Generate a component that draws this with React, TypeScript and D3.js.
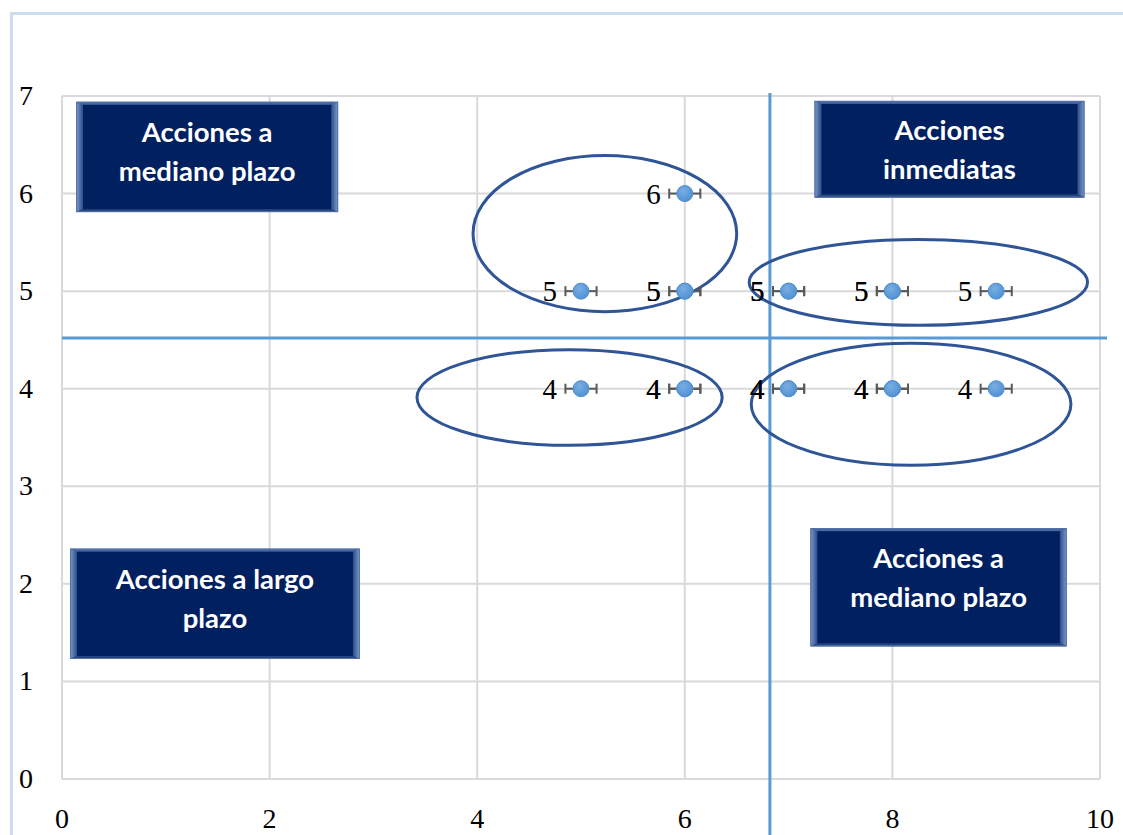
import { useCallback, useEffect, useRef } from "react";
import * as d3 from "d3";

// data points (x = impact, y = priority); repeated entries are overlapping points
const pointX = [6, 5, 6, 6, 7, 7, 8, 8, 9, 5, 6, 6, 7, 7, 8, 8, 9];
const pointY = [6, 5, 5, 5, 5, 5, 5, 5, 5, 4, 4, 4, 4, 4, 4, 4, 4];
const errorX = 0.15;

const xTicks = [0, 2, 4, 6, 8, 10];
const yTicks = [0, 1, 2, 3, 4, 5, 6, 7];
const xGrid = [0, 2, 4, 6, 8, 10];
const yGrid = [1, 2, 3, 4, 5, 6, 7];

// quadrant split lines
const splitX = 6.82;
const splitY = 4.52;

// groupings drawn as ellipses (centre, radii in data units)
const ellipseCx = [5.23, 8.25, 4.89, 8.18];
const ellipseCy = [5.59, 5.09, 3.91, 3.84];
const ellipseRx = [1.27, 1.63, 1.47, 1.54];
const ellipseRy = [0.8, 0.44, 0.49, 0.625];

// quadrant label boxes
const boxLines = [
  ["Acciones a", "mediano plazo"],
  ["Acciones", "inmediatas"],
  ["Acciones a largo", "plazo"],
  ["Acciones a", "mediano plazo"],
];
const boxX0 = [0.135, 7.25, 0.077, 7.21];
const boxX1 = [2.66, 9.85, 2.87, 9.68];
const boxY0 = [6.94, 6.95, 2.36, 2.57];
const boxY1 = [5.81, 5.96, 1.23, 1.36];
const boxTextY = [6.42, 6.44, 1.84, 2.06]; // mid-height of the two text lines

export default function App() {
  const ref = useRef<SVGSVGElement | null>(null);
  const width = 1123;
  const height = 835;
  const margin = { top: 96, right: 23, bottom: 56, left: 62 };

  const drawChart = useCallback(() => {
    const svg = d3.select(ref.current);
    svg.selectAll("*").remove();

    const x = d3.scaleLinear().domain([0, 10]).range([margin.left, width - margin.right]);
    const y = d3.scaleLinear().domain([0, 7]).range([height - margin.bottom, margin.top]);

    const defs = svg.append("defs");
    const mk = defs.append("radialGradient").attr("id", "mk").attr("cx", "40%").attr("cy", "35%").attr("r", "70%");
    mk.append("stop").attr("offset", "0%").attr("stop-color", "#78aee3");
    mk.append("stop").attr("offset", "100%").attr("stop-color", "#4f8fd2");
    const side = defs.append("linearGradient").attr("id", "side").attr("x1", "0").attr("x2", "1");
    side.append("stop").attr("offset", "0%").attr("stop-color", "#7f9cc9");
    side.append("stop").attr("offset", "100%").attr("stop-color", "#2b4c8a");
    const side2 = defs.append("linearGradient").attr("id", "side2").attr("x1", "1").attr("x2", "0");
    side2.append("stop").attr("offset", "0%").attr("stop-color", "#7f9cc9");
    side2.append("stop").attr("offset", "100%").attr("stop-color", "#2b4c8a");

    svg.append("rect").attr("width", width).attr("height", height).attr("fill", "white");
    // outer chart frame
    svg.append("rect")
      .attr("x", 11.5).attr("y", 13.5).attr("width", width + 20).attr("height", height + 20)
      .attr("fill", "none").attr("stroke", "#cddcee").attr("stroke-width", 3);

    // grid
    svg.append("g").selectAll("line").data(xGrid).join("line")
      .attr("x1", (d) => x(d)).attr("x2", (d) => x(d))
      .attr("y1", y(0)).attr("y2", y(7))
      .attr("stroke", "#d9d9d9").attr("stroke-width", 2);
    svg.append("g").selectAll("line").data(yGrid).join("line")
      .attr("x1", x(0)).attr("x2", x(10))
      .attr("y1", (d) => y(d)).attr("y2", (d) => y(d))
      .attr("stroke", "#d9d9d9").attr("stroke-width", 2);
    svg.append("line")
      .attr("x1", x(0)).attr("x2", x(10)).attr("y1", y(0)).attr("y2", y(0))
      .attr("stroke", "#d9d9d9").attr("stroke-width", 2);

    // tick labels
    const tickFont = "'Liberation Serif', 'DejaVu Serif', serif";
    svg.append("g").selectAll("text").data(yTicks).join("text")
      .attr("x", 26).attr("y", (d) => y(d) + 9)
      .attr("text-anchor", "middle")
      .style("font-family", tickFont).style("font-size", "28px").attr("fill", "#000")
      .text((d) => d);
    svg.append("g").selectAll("text").data(xTicks).join("text")
      .attr("x", (d) => x(d)).attr("y", y(0) + 49)
      .attr("text-anchor", "middle")
      .style("font-family", tickFont).style("font-size", "28px").attr("fill", "#000")
      .text((d) => d);

    // label boxes
    const boxes = svg.append("g");
    boxLines.forEach((lines, i) => {
      const bx = x(boxX0[i]);
      const by = y(boxY0[i]);
      const bw = x(boxX1[i]) - bx;
      const bh = y(boxY1[i]) - by;
      const e = 7;
      const t = 3;
      const g = boxes.append("g");
      g.append("rect").attr("x", bx).attr("y", by).attr("width", bw).attr("height", bh).attr("fill", "#2c4a86");
      // bevel edges
      g.append("polygon")
        .attr("points", `${bx},${by} ${bx + e},${by + t} ${bx + e},${by + bh - t} ${bx},${by + bh}`)
        .attr("fill", "url(#side)");
      g.append("polygon")
        .attr("points", `${bx + bw},${by} ${bx + bw - e},${by + t} ${bx + bw - e},${by + bh - t} ${bx + bw},${by + bh}`)
        .attr("fill", "url(#side2)");
      g.append("polygon")
        .attr("points", `${bx},${by} ${bx + bw},${by} ${bx + bw - e},${by + t} ${bx + e},${by + t}`)
        .attr("fill", "#4766a0");
      g.append("polygon")
        .attr("points", `${bx},${by + bh} ${bx + bw},${by + bh} ${bx + bw - e},${by + bh - t} ${bx + e},${by + bh - t}`)
        .attr("fill", "#27447f");
      g.append("rect").attr("x", bx + e).attr("y", by + t).attr("width", bw - 2 * e).attr("height", bh - 2 * t)
        .attr("fill", "#002060");
      g.append("rect").attr("x", bx + 0.5).attr("y", by + 0.5).attr("width", bw - 1).attr("height", bh - 1)
        .attr("fill", "none").attr("stroke", "#5573a8").attr("stroke-width", 1);
      const cy = y(boxTextY[i]);
      lines.forEach((txt, j) => {
        g.append("text")
          .attr("x", bx + bw / 2).attr("y", cy + (j - 0.5) * 39 + 9)
          .attr("text-anchor", "middle")
          .style("font-family", "Lato, 'Open Sans', sans-serif").style("font-weight", "700")
          .style("font-size", "27.5px").attr("fill", "white")
          .text(txt);
      });
    });

    // split lines
    svg.append("line")
      .attr("x1", x(splitX)).attr("x2", x(splitX)).attr("y1", y(7) - 3).attr("y2", height)
      .attr("stroke", "#5b9bd5").attr("stroke-width", 3);
    svg.append("line")
      .attr("x1", x(0)).attr("x2", width - 16).attr("y1", y(splitY)).attr("y2", y(splitY))
      .attr("stroke", "#5b9bd5").attr("stroke-width", 3);

    // ellipses
    svg.append("g").selectAll("ellipse").data(ellipseCx).join("ellipse")
      .attr("cx", (d) => x(d)).attr("cy", (_, i) => y(ellipseCy[i]))
      .attr("rx", (_, i) => x(ellipseRx[i]) - x(0))
      .attr("ry", (_, i) => y(0) - y(ellipseRy[i]))
      .attr("fill", "none").attr("stroke", "#2f5597").attr("stroke-width", 3);

    const pts = pointX.map((px, i) => ({ x: px, y: pointY[i] }));

    // error bars
    const eb = svg.append("g").attr("stroke", "#595959").attr("stroke-width", 2);
    pts.forEach((p) => {
      const cy = y(p.y);
      const l = x(p.x - errorX);
      const r = x(p.x + errorX);
      eb.append("line").attr("x1", l).attr("x2", r).attr("y1", cy).attr("y2", cy);
      eb.append("line").attr("x1", l).attr("x2", l).attr("y1", cy - 5).attr("y2", cy + 5);
      eb.append("line").attr("x1", r).attr("x2", r).attr("y1", cy - 5).attr("y2", cy + 5);
    });

    // markers
    svg.append("g").selectAll("circle").data(pts).join("circle")
      .attr("cx", (d) => x(d.x)).attr("cy", (d) => y(d.y)).attr("r", 8)
      .attr("fill", "url(#mk)").attr("stroke", "#4f8fd2").attr("stroke-width", 1);

    // data labels
    svg.append("g").selectAll("text").data(pts).join("text")
      .attr("x", (d) => x(d.x) - 24).attr("y", (d) => y(d.y) + 10)
      .attr("text-anchor", "end")
      .style("font-family", tickFont).style("font-size", "29px").attr("fill", "#000")
      .text((d) => d.y);
  }, []);

  useEffect(() => {
    drawChart();
  }, [drawChart]);

  return (
    <svg
      ref={ref}
      width={width}
      height={height}
      style={{ position: "absolute", left: 0, top: 0, display: "block" }}
    ></svg>
  );
}
